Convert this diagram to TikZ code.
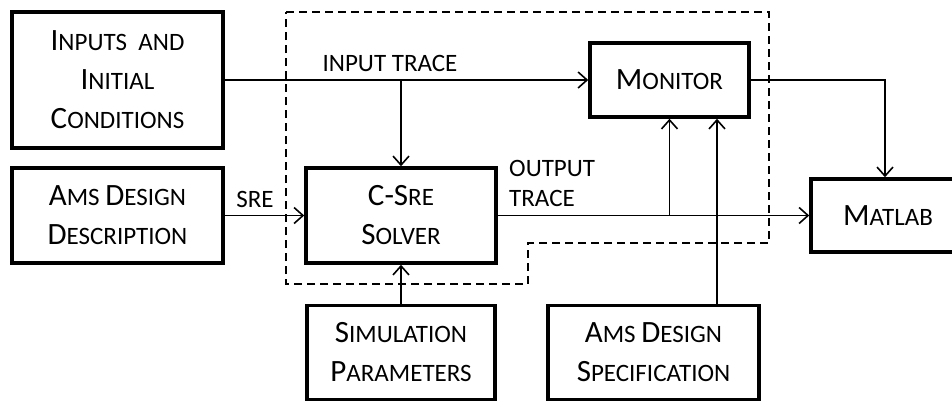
\documentclass[tikz,border=0pt]{standalone}
\usepackage{fontspec}
\setmainfont{Carlito}
\usetikzlibrary{arrows.meta}
%% large initial letter for the fake small caps
\newcommand\Ini[1]{{\fontsize{31}{39}\selectfont #1}}
\begin{document}
\begin{tikzpicture}[x=1pt, y=-1pt, >={Straight Barb[length=9pt, width=16pt]},
  blk/.style={draw, line width=3.5pt, align=center, inner sep=0pt,
              font=\fontsize{25}{39}\selectfont},
  wire/.style={line width=1.6pt},
  lbl/.style={inner sep=0pt, font=\fontsize{25}{30}\selectfont}]
%% 1 unit = 1 px of the 952 x 402 frame, y runs downwards
\useasboundingbox (0,0) rectangle (952,402);

%% ---- Dashed tool boundary ----
\draw[line width=1.3pt, dash pattern=on 8pt off 5pt]
  (286,12) -- (769,12) -- (769,243) -- (528,243) -- (528,284) -- (286,284) -- cycle;

%% ---- Blocks ----
\node[blk, minimum width=211, minimum height=136] (inputs) at (117.5,80)
  {\Ini{I}NPUTS~ AND\\\Ini{I}NITIAL\\\Ini{C}ONDITIONS};
\node[blk, minimum width=211, minimum height=95] (amsdesc) at (117.5,215.5)
  {\Ini{A}MS \Ini{D}ESIGN\\\Ini{D}ESCRIPTION};
\node[blk, minimum width=190, minimum height=95] (solver) at (401,215.5)
  {\Ini{C-S}RE\\\Ini{S}OLVER};
\node[blk, minimum width=159, minimum height=74] (monitor) at (669.5,80)
  {\Ini{M}ONITOR};
\node[blk, minimum width=154, minimum height=73] (matlab) at (888,215.5)
  {\Ini{M}ATLAB};
\node[blk, minimum width=188, minimum height=94] (simparams) at (401,352.5)
  {\Ini{S}IMULATION\\\Ini{P}ARAMETERS};
\node[blk, minimum width=211, minimum height=94] (amsspec) at (653.5,352.5)
  {\Ini{A}MS \Ini{D}ESIGN\\\Ini{S}PECIFICATION};

%% ---- Connectors ----
\draw[wire, ->] (inputs.east) -- (monitor.west);
\coordinate (tapin) at (solver.north |- inputs.east);
\draw[wire, ->] (tapin) -- (solver.north);
\draw[wire, ->] (amsdesc.east) -- (solver.west);
\draw[wire, ->] (solver.east) -- (matlab.west);
\coordinate (tapout) at (monitor.south |- solver.east);
\draw[wire, ->] (tapout) -- (monitor.south);
\coordinate (matin) at ([xshift=-3pt]matlab.north);
\draw[wire, ->] (monitor.east) -| (matin);
\coordinate (specin) at ([xshift=47.5pt]monitor.south);
\draw[wire, ->] (specin |- amsspec.north) -- (specin);
\draw[wire, ->] (simparams.north) -- (solver.south);

%% ---- Wire labels ----
\node[lbl] (inlbl) at (390,63) {INPUT TRACE};
\node[lbl] (srelbl) at (255,199) {SRE};
\node[lbl, align=left, anchor=west] (outlbl) at (509,183) {OUTPUT\\TRACE};
\end{tikzpicture}
\end{document}
